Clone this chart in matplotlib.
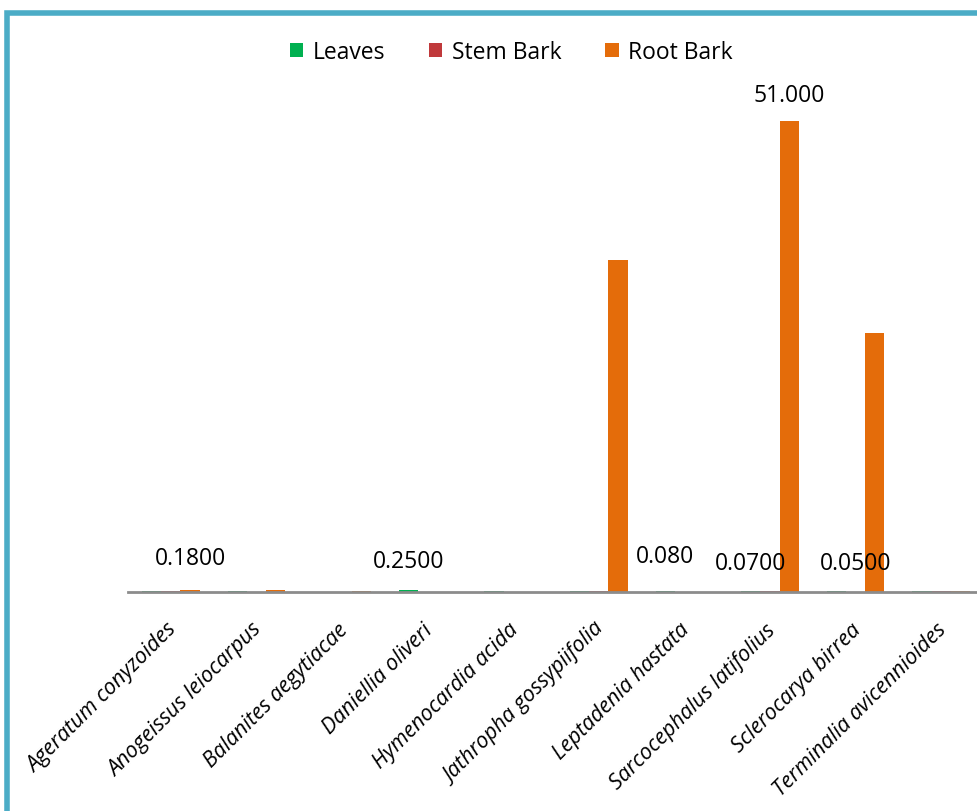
import numpy as np
import matplotlib
matplotlib.use('Agg')
import matplotlib.pyplot as plt
from matplotlib.patches import Rectangle
from matplotlib.transforms import ScaledTranslation

plt.rcParams['font.family'] = ['Open Sans', 'DejaVu Sans']

species = ['Ageratum conyzoides', 'Anogeissus leiocarpus', 'Balanites aegytiacae',
           'Daniellia oliveri', 'Hymenocardia acida', 'Jathropha gossypiifolia',
           'Leptadenia hastata', 'Sarcocephalus latifolius', 'Sclerocarya birrea',
           'Terminalia avicennioides']
leaves = [0.15, 0.15, 0.05, 0.25, 0.15, 0.12, 0.08, 0.07, 0.15, 0.15]
stem_bark = [0.15, 0.0, 0.0, 0.0, 0.0, 0.15, 0.0, 0.15, 0.05, 0.15]
root_bark = [0.18, 0.18, 0.10, 0.0, 0.04, 36.0, 0.04, 51.0, 28.0, 0.10]

# (category, series, text, offset in points)
value_labels = [(0, 2, '0.1800', 15), (3, 0, '0.2500', 12), (6, 0, '0.080', 17),
                (7, 0, '0.0700', 12), (8, 1, '0.0500', 12), (7, 2, '51.000', 10)]

series = [leaves, stem_bark, root_bark]
names = ['Leaves', 'Stem Bark', 'Root Bark']
colors = ['#00b050', '#c0393b', '#e46c0a']

fig = plt.figure(figsize=(9.77, 8.12), dpi=100)
ax = fig.add_axes([128 / 977, 219 / 812, 856 / 977, 554 / 812])

x = np.arange(len(species))
w = 0.225
bars = []
for k, (vals, name, c) in enumerate(zip(series, names, colors)):
    b = ax.bar(x + (k - 1) * w, vals, w, color=c, label=name)
    bars.append(b)

for cat, ser, txt, off in value_labels:
    r = bars[ser][cat]
    ax.annotate(txt, (r.get_x() + r.get_width() / 2, r.get_height()),
                xytext=(0, off), textcoords='offset points',
                ha='center', va='bottom', fontsize=16.5)

ax.set_xlim(-0.5, len(species) - 0.5)
ax.set_ylim(0, 60)
for s in ['top', 'right', 'left']:
    ax.spines[s].set_visible(False)
ax.spines['bottom'].set_color('#8c8c8c')
ax.spines['bottom'].set_linewidth(2)
ax.set_yticks([])
ax.set_xticks(x)
ax.set_xticklabels(species, rotation=45, ha='right', rotation_mode='anchor',
                   fontsize=15.5, style='italic')
ax.tick_params(axis='x', length=0, pad=10)
shift = ScaledTranslation(-5 / 100, -13 / 100, fig.dpi_scale_trans)
for lab in ax.get_xticklabels():
    lab.set_transform(lab.get_transform() + shift)

fig.legend(loc='center', bbox_to_anchor=(511 / 977, 1 - 53 / 812), ncol=3,
           frameon=False, fontsize=16.5, handlelength=0.6, handleheight=0.6,
           handletextpad=0.4, columnspacing=1.9)

# blue chart border along left and top edges
fig.patches.append(Rectangle((7 / 977, -0.1), 1.2, 1 - 14 / 812 + 0.1,
                             transform=fig.transFigure, fill=False,
                             edgecolor='#4bacc6', linewidth=4, zorder=10))

fig.savefig('out.png', dpi=100)
plt.close()
